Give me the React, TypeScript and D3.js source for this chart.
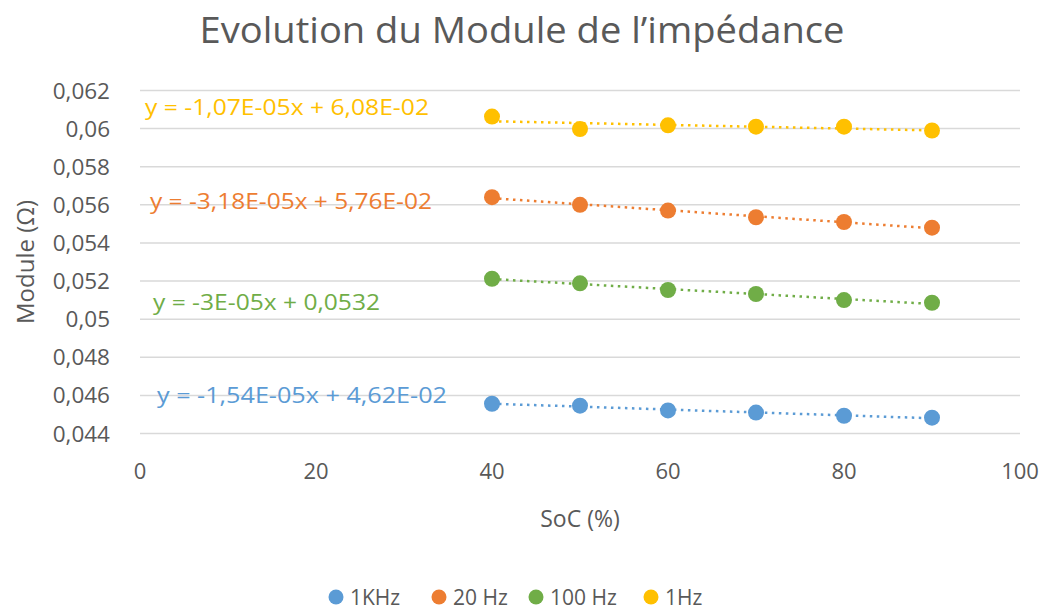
import React from 'react'
import * as d3 from 'd3'

// SoC (%) values measured
const soc = [40, 50, 60, 70, 80, 90]

// impedance modulus (Ohm) for each frequency
const mod1kHz = [0.04556, 0.04546, 0.04521, 0.0451, 0.04493, 0.04483]
const mod20Hz = [0.0564, 0.056, 0.0557, 0.05535, 0.0551, 0.0548]
const mod100Hz = [0.05212, 0.05188, 0.05153, 0.05132, 0.051, 0.05086]
const mod1Hz = [0.06063, 0.05998, 0.06017, 0.0601, 0.0601, 0.0599]

const seriesNames = ['1KHz', '20 Hz', '100 Hz', '1Hz']
const seriesValues = [mod1kHz, mod20Hz, mod100Hz, mod1Hz]
const seriesColors = ['#5B9BD5', '#ED7D31', '#70AD47', '#FFC000']
const equations = [
  'y = -1,54E-05x + 4,62E-02',
  'y = -3,18E-05x + 5,76E-02',
  'y = -3E-05x + 0,0532',
  'y = -1,07E-05x + 6,08E-02'
]

const yTicks = [0.044, 0.046, 0.048, 0.05, 0.052, 0.054, 0.056, 0.058, 0.06, 0.062]
const xTicks = [0, 20, 40, 60, 80, 100]

const font = '"Open Sans", "Noto Sans", sans-serif'
const grey = '#595959'

// least squares fit, same as the excel trendline
function fit (xs: number[], ys: number[]) {
  const mx = d3.mean(xs) as number
  const my = d3.mean(ys) as number
  let num = 0
  let den = 0
  xs.forEach((x, i) => {
    num += (x - mx) * (ys[i] - my)
    den += (x - mx) * (x - mx)
  })
  const a = num / den
  return (x: number) => my + a * (x - mx)
}

const fmt = (v: number) => String(+v.toFixed(3)).replace('.', ',')

export default function App () {
  const width = 1050
  const height = 611
  const x = d3.scaleLinear().domain([0, 100]).range([140, 1020])
  const y = d3.scaleLinear().domain([0.044, 0.062]).range([433.5, 90.5])

  // equation labels: left x, baseline y, text width
  const eqPos = [
    [157, 403, 290],
    [150, 209, 282],
    [153, 310, 227],
    [145, 115, 284]
  ]
  // legend: marker x, text x
  const legendPos = [[336, 350], [439, 453], [536, 550], [651, 665]]

  const line = d3.line<number>()

  return (
    <svg width={width} height={height} style={{ position: 'absolute', left: 0, top: 0, background: '#fff' }}>
      <text x={522} y={43} textAnchor='middle' fontFamily={font} fontSize={36} fill={grey} textLength={645} lengthAdjust='spacingAndGlyphs'>
        Evolution du Module de l’impédance
      </text>

      {yTicks.map(t => (
        <g key={t}>
          <line x1={x(0)} x2={x(100)} y1={y(t)} y2={y(t)} stroke='#D9D9D9' strokeWidth={1.5} />
          <text x={110} y={y(t)} dy='0.36em' textAnchor='end' fontFamily={font} fontSize={22.5} fill={grey}>
            {fmt(t)}
          </text>
        </g>
      ))}

      {xTicks.map(t => (
        <text key={t} x={x(t)} y={479} textAnchor='middle' fontFamily={font} fontSize={22} fill={grey}>
          {t}
        </text>
      ))}

      <text x={580} y={527} textAnchor='middle' fontFamily={font} fontSize={23} fill={grey}>SoC (%)</text>
      <text transform='translate(34,262) rotate(-90)' textAnchor='middle' fontFamily={font} fontSize={24} fill={grey}>
        Module (Ω)
      </text>

      {seriesValues.map((vals, i) => {
        const f = fit(soc, vals)
        const x0 = soc[0]
        const x1 = soc[soc.length - 1]
        return (
          <path
            key={'t' + i}
            d={line([[x(x0), y(f(x0))], [x(x1), y(f(x1))]] as any) as string}
            stroke={seriesColors[i]}
            strokeWidth={2.5}
            strokeDasharray='2.5 4.5'
            fill='none'
          />
        )
      })}

      {seriesValues.map((vals, i) => (
        <g key={'m' + i}>
          {vals.map((v, j) => (
            <circle key={j} cx={x(soc[j])} cy={y(v)} r={8} fill={seriesColors[i]} />
          ))}
        </g>
      ))}

      {equations.map((eq, i) => (
        <text
          key={'e' + i}
          x={eqPos[i][0]}
          y={eqPos[i][1]}
          textLength={eqPos[i][2]}
          lengthAdjust='spacingAndGlyphs'
          fontFamily={font}
          fontSize={21}
          fill={seriesColors[i]}
        >
          {eq}
        </text>
      ))}

      {seriesNames.map((n, i) => (
        <g key={'l' + i}>
          <circle cx={legendPos[i][0]} cy={597} r={7.5} fill={seriesColors[i]} />
          <text x={legendPos[i][1]} y={597} dy='0.36em' fontFamily={font} fontSize={21} fill={grey}>{n}</text>
        </g>
      ))}
    </svg>
  )
}
